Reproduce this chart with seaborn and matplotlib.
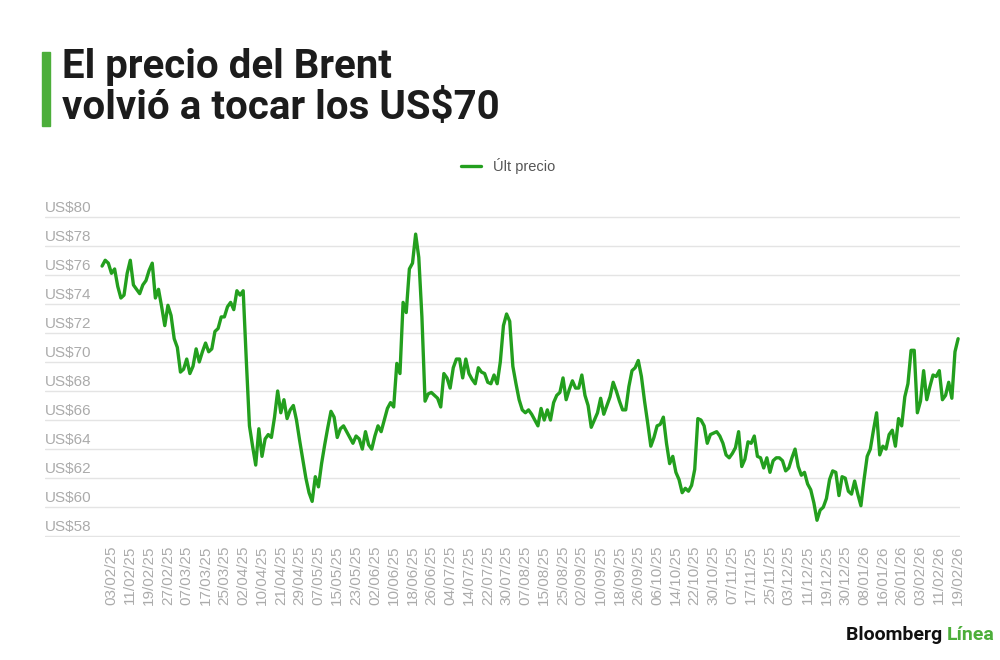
import pandas as pd
import numpy as np
import seaborn as sns
import matplotlib.pyplot as plt
from matplotlib.patches import Rectangle
from matplotlib.transforms import offset_copy

# trading days of the series (ICE Brent, holidays removed)
fechas = pd.bdate_range('2025-01-29', '2026-02-19', freq='C',
                        holidays=['2025-04-18', '2025-12-25', '2026-01-01'])

# last price
precio = [
    76.6, 77.0, 76.8, 76.1, 76.4, 75.2, 74.4, 74.6, 76.1, 77.0,
    75.3, 75.0, 74.7, 75.3, 75.6, 76.3, 76.8, 74.4, 75.0, 73.8,
    72.5, 73.9, 73.2, 71.6, 71.0, 69.3, 69.5, 70.2, 69.2, 69.7,
    70.9, 70.0, 70.7, 71.3, 70.7, 70.9, 72.1, 72.3, 73.1, 73.1,
    73.8, 74.1, 73.6, 74.9, 74.6, 74.9, 70.1, 65.6, 64.2, 62.9,
    65.4, 63.5, 64.7, 65.0, 64.8, 66.2, 68.0, 66.5, 67.4, 66.1,
    66.7, 67.0, 66.0, 64.6, 63.3, 62.0, 61.0, 60.4, 62.1, 61.4,
    63.0, 64.3, 65.5, 66.6, 66.2, 64.8, 65.4, 65.6, 65.2, 64.8,
    64.4, 64.9, 64.7, 64.0, 65.2, 64.3, 64.0, 64.9, 65.6, 65.2,
    66.0, 66.8, 67.2, 66.9, 69.9, 69.2, 74.1, 73.4, 76.4, 76.8,
    78.8, 77.2, 73.1, 67.3, 67.8, 67.9, 67.7, 67.5, 66.9, 69.2,
    68.9, 68.2, 69.6, 70.2, 70.2, 68.9, 70.2, 69.2, 68.8, 68.5,
    69.6, 69.3, 69.2, 68.6, 68.5, 69.1, 68.5, 70.0, 72.5, 73.3,
    72.8, 69.7, 68.5, 67.4, 66.7, 66.5, 66.7, 66.4, 66.0, 65.6,
    66.8, 66.0, 66.7, 66.0, 67.2, 67.7, 67.9, 68.9, 67.4, 68.1,
    68.7, 68.2, 68.2, 69.1, 67.7, 67.0, 65.5, 66.0, 66.5, 67.5,
    66.4, 67.0, 67.6, 68.6, 68.0, 67.3, 66.7, 66.7, 68.3, 69.4,
    69.6, 70.1, 69.0, 67.3, 65.8, 64.2, 64.8, 65.6, 65.7, 66.2,
    64.4, 63.0, 63.5, 62.4, 61.9, 61.0, 61.3, 61.1, 61.5, 62.6,
    66.1, 66.0, 65.6, 64.4, 65.0, 65.1, 65.2, 64.9, 64.4, 63.6,
    63.4, 63.7, 64.1, 65.2, 62.8, 63.3, 64.5, 64.4, 64.9, 63.5,
    63.4, 62.7, 63.4, 62.4, 63.2, 63.4, 63.4, 63.2, 62.5, 62.7,
    63.4, 64.0, 62.8, 62.2, 62.4, 61.6, 61.2, 60.3, 59.1, 59.8,
    60.0, 60.6, 61.9, 62.5, 62.4, 60.8, 62.1, 62.0, 61.1, 60.9,
    61.8, 60.9, 60.1, 61.9, 63.5, 64.0, 65.3, 66.5, 63.6, 64.2,
    64.0, 65.0, 65.3, 64.2, 66.1, 65.6, 67.6, 68.5, 70.8, 70.8,
    66.5, 67.3, 69.4, 67.4, 68.3, 69.1, 69.0, 69.4, 67.4, 67.7,
    68.6, 67.5, 70.7, 71.6,
]

y_ticks = [58, 60, 62, 64, 66, 68, 70, 72, 74, 76, 78, 80]
y_labels = ['US$%d' % v for v in y_ticks]

df = pd.DataFrame({'pos': np.arange(len(precio)), 'precio': precio, 'fecha': fechas})
x_ticks = df['pos'][3::6]
x_labels = df['fecha'][3::6].dt.strftime('%d/%m/%y')

verde = '#239f1e'
gris = '#ababab'

sns.set_style('white')
plt.rcParams['font.family'] = ['Liberation Sans', 'DejaVu Sans']

fig = plt.figure(figsize=(10, 6.6), dpi=100)
ax = fig.add_axes([0.045, 0.1864, 0.915, 0.4864])

sns.lineplot(data=df, x='pos', y='precio', color=verde, linewidth=2.4,
             label='Últ precio', ax=ax)

ax.set_xlim(-18.2, 273.6)
ax.set_ylim(57.95, 80.05)
ax.set_yticks(y_ticks)
ax.tick_params(axis='y', left=False, labelleft=False)
ax.grid(axis='y', color='#e4e4e4', linewidth=1)
ax.set_xticks(x_ticks)
ax.set_xticklabels(x_labels, rotation=90, color=gris, fontsize=11)
ax.tick_params(axis='x', length=0, pad=6)
ax.set_xlabel('')
ax.set_ylabel('')
for s in ax.spines.values():
    s.set_visible(False)

# y labels sit above their gridline
trans = offset_copy(ax.get_yaxis_transform(), fig=fig, y=2, units='dots')
for v, lab in zip(y_ticks, y_labels):
    ax.text(0, v, lab, transform=trans, ha='left', va='bottom', color=gris, fontsize=11)

ax.legend(loc='center', bbox_to_anchor=(0.508, 0.749), bbox_transform=fig.transFigure,
          frameon=False, handlelength=1.4, fontsize=10.5, labelcolor='#555555')

# title
fig.patches.append(Rectangle((0.042, 0.809), 0.008, 0.112, transform=fig.transFigure,
                             color='#4cae3a'))
fig.text(0.062, 0.927, 'El precio del Brent\nvolvió a tocar los US$70', va='top', ha='left',
         fontsize=29, fontweight='bold', color='#1c1c1c', linespacing=1.08,
         family=['Roboto', 'DejaVu Sans'])

# footer
t_linea = fig.text(0.995, 0.024, 'Línea', ha='right', va='bottom', fontsize=14,
                   fontweight='bold', color='#4cae3a', family=['Roboto', 'DejaVu Sans'])
fig.text(0, 0, 'Bloomberg ', ha='right', va='bottom', fontsize=14, fontweight='bold',
         color='#111111', family=['Roboto', 'DejaVu Sans'])
fig.canvas.draw()
bb = t_linea.get_window_extent()
fig.texts[-1].set_position(fig.transFigure.inverted().transform((bb.x0, bb.y0)))

plt.savefig('out.png', dpi=100)
